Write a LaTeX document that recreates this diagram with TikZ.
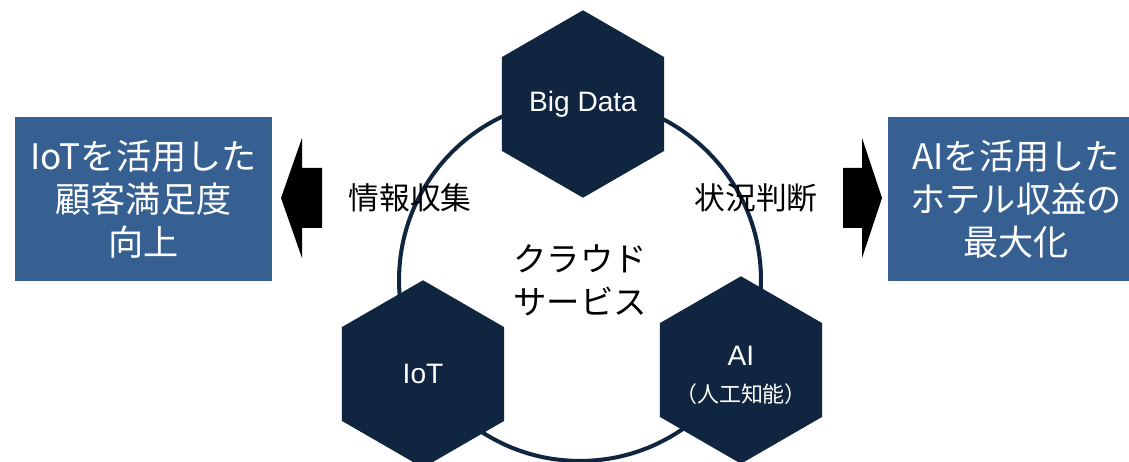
\documentclass[tikz,border=0pt]{standalone}
\usepackage{fontspec}
\setmainfont{Liberation Sans}
\newfontfamily\jp{Noto Sans CJK JP}
\usepackage{xcolor}
\usetikzlibrary{shapes.geometric, positioning}
\definecolor{navy}{HTML}{10253F}
\definecolor{boxblue}{HTML}{366092}
\tikzset{
    hexa/.style={
        regular polygon,
        regular polygon sides=6,
        shape border rotate=30,
        fill=navy,
        minimum size=3.75cm,
        inner sep=0pt,
        text=white,
        align=center,
        font=\fontsize{16}{20}\selectfont
    },
    hexatext/.style={
        text=white,
        align=center,
        inner sep=0pt,
        font=\fontsize{16}{20}\selectfont
    },
    goalbox/.style={
        rectangle,
        fill=boxblue,
        text=white,
        align=center,
        minimum width=5.14cm,
        minimum height=3.28cm,
        font=\jp\fontsize{20}{24.5}\selectfont
    },
    cloudring/.style={
        circle,
        draw=navy,
        line width=2.3pt,
        minimum size=7.24cm,
        align=center,
        font=\jp\fontsize{19}{24.5}\selectfont
    },
    flowlabel/.style={
        font=\jp\fontsize{17.5}{21}\selectfont
    },
    blockarrow/.style={
        fill=black
    }
}
\begin{document}
\begin{tikzpicture}[x=0.02cm, y=-0.02cm]
\useasboundingbox (0,0) rectangle (1129,462);
\clip (0,0) rectangle (1129,462);

% Cloud ring
\node[cloudring] (cloud) at (580,280) {クラウド\\サービス};

% Hexagons
\node[hexa] (bigdata) at (583,104) {Big Data};
\node[hexa] (iot) at (423,374) {IoT};
\node[hexa] (ai) at (741,370) {};
\node[hexatext, yshift=-0.1cm] (ai_text) at (ai) {AI\\[1pt]{\jp\fontsize{12.5}{15}\selectfont （人工知能）}};

% Flow labels
\node[flowlabel] (collect) at (410,198) {情報収集};
\node[flowlabel] (judge) at (756,198) {状況判断};

% Goal boxes
\node[goalbox] (goal_left) at (143.5,199) {IoT{\jp を活用した}\\顧客満足度\\向上};
\node[goalbox] (goal_right) at (1016,199) {AI{\jp を活用した}\\ホテル収益の\\最大化};

% Block arrows
\fill[blockarrow] (322,168) -- (302,168) -- (302,138) -- (281,198) -- (302,258) -- (302,228) -- (322,228) -- cycle;
\fill[blockarrow] (843,168) -- (862,168) -- (862,138) -- (882,198) -- (862,258) -- (862,228) -- (843,228) -- cycle;

\end{tikzpicture}
\end{document}
